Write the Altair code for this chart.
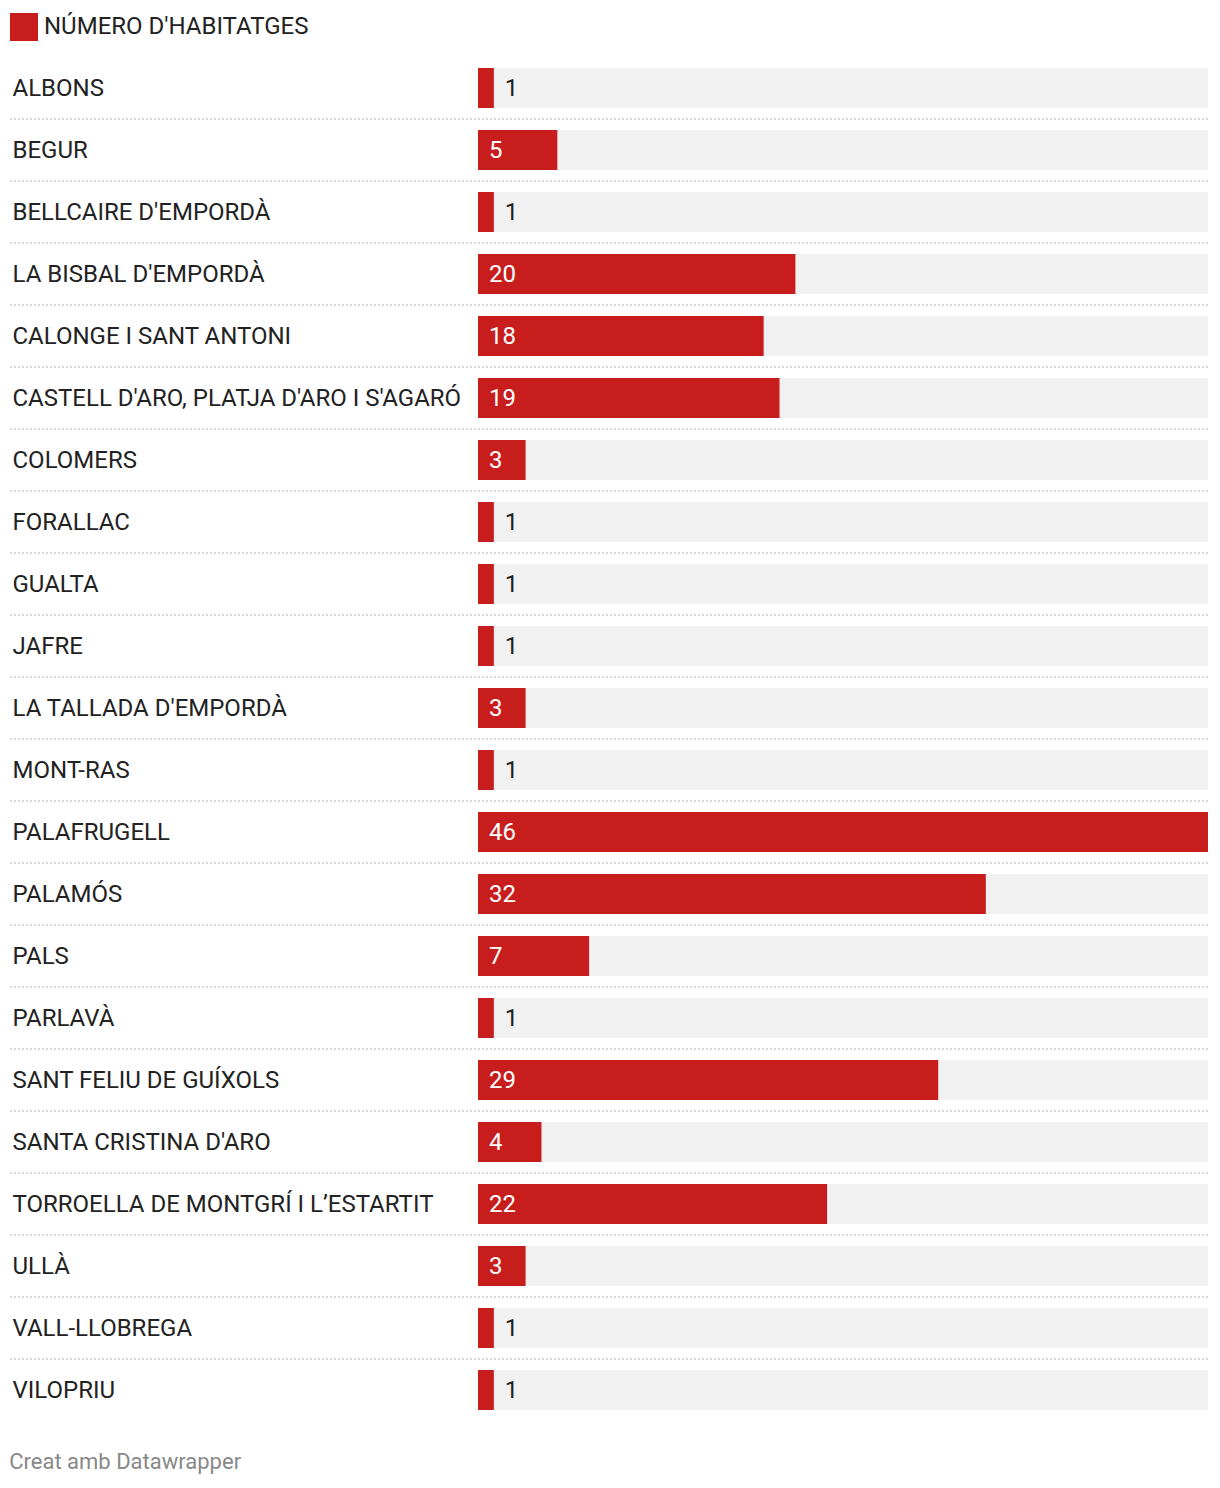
import altair as alt
import pandas as pd

SERIES_NAME = "NÚMERO D'HABITATGES"
names = ["ALBONS", "BEGUR", "BELLCAIRE D'EMPORDÀ", "LA BISBAL D'EMPORDÀ",
         "CALONGE I SANT ANTONI", "CASTELL D'ARO, PLATJA D'ARO I S'AGARÓ",
         "COLOMERS", "FORALLAC", "GUALTA", "JAFRE", "LA TALLADA D'EMPORDÀ",
         "MONT-RAS", "PALAFRUGELL", "PALAMÓS", "PALS", "PARLAVÀ",
         "SANT FELIU DE GUÍXOLS", "SANTA CRISTINA D'ARO",
         "TORROELLA DE MONTGRÍ I L’ESTARTIT", "ULLÀ", "VALL-LLOBREGA", "VILOPRIU"]
values = [1, 5, 1, 20, 18, 19, 3, 1, 1, 1, 3, 1, 46, 32, 7, 1, 29, 4, 22, 3, 1, 1]
FOOTER = "Creat amb Datawrapper"

RED = "#c71e1d"
FONT = "Roboto"
FS = 24

df = pd.DataFrame({"name": names, "v": values})
df["series"] = SERIES_NAME
df["last"] = [i == len(names) - 1 for i in range(len(names))]

base = alt.Chart(df)
yenc = alt.Y("name:N", sort=None,
             scale=alt.Scale(paddingInner=0, paddingOuter=0),
             axis=alt.Axis(title=None, domain=False, ticks=False, grid=False,
                           labelAlign="left", labelPadding=466, labelLimit=0,
                           labelOffset=1,
                           labelFont=FONT, labelFontSize=FS, labelColor="#222222"))
xscale = alt.Scale(domain=[0, 46], nice=False, zero=True)

bg = base.mark_bar(height=40, color="#f1f1f1").encode(
    y=yenc, x=alt.value(0), x2=alt.value("width"))

rules = base.transform_filter("!datum.last").mark_rule(
    color="#cccccc", strokeWidth=1.5, strokeDash=[2, 2]).encode(
    y=alt.Y("name:N", sort=None, bandPosition=1),
    x=alt.value(-468), x2=alt.value(730))

bars = base.mark_bar(height=40).encode(
    y=yenc,
    x=alt.X("v:Q", scale=xscale, axis=None),
    color=alt.Color("series:N", scale=alt.Scale(range=[RED]),
                    legend=alt.Legend(title=None, orient="none", legendX=-468, legendY=-44,
                                      symbolType="square", symbolSize=784,
                                      symbolStrokeWidth=0, labelFont=FONT,
                                      labelFontSize=FS, labelColor="#222222",
                                      labelLimit=0, labelOffset=6, padding=0)))

labels = base.transform_calculate(
    lx="datum.v >= 3 ? 0 : datum.v").mark_text(
    align="left", baseline="middle", dx=11, dy=1, font=FONT, fontSize=FS).encode(
    y=yenc,
    x=alt.X("lx:Q", scale=xscale, axis=None),
    text="v:Q",
    color=alt.condition("datum.v >= 3", alt.value("#ffffff"), alt.value("#222222")))

chart = alt.layer(bg, rules, bars, labels).properties(
    width=730, height=1364,
    autosize=alt.AutoSizeParams(type="none"),
    padding={"left": 470, "top": 49, "right": 4, "bottom": 60},
    title=alt.TitleParams(FOOTER, orient="bottom", anchor="start", font=FONT,
                          fontSize=22, fontWeight="normal", color="#888888", offset=31),
).configure_view(stroke=None)

chart.save("out.html", embed_options={"renderer": "svg", "actions": False})
